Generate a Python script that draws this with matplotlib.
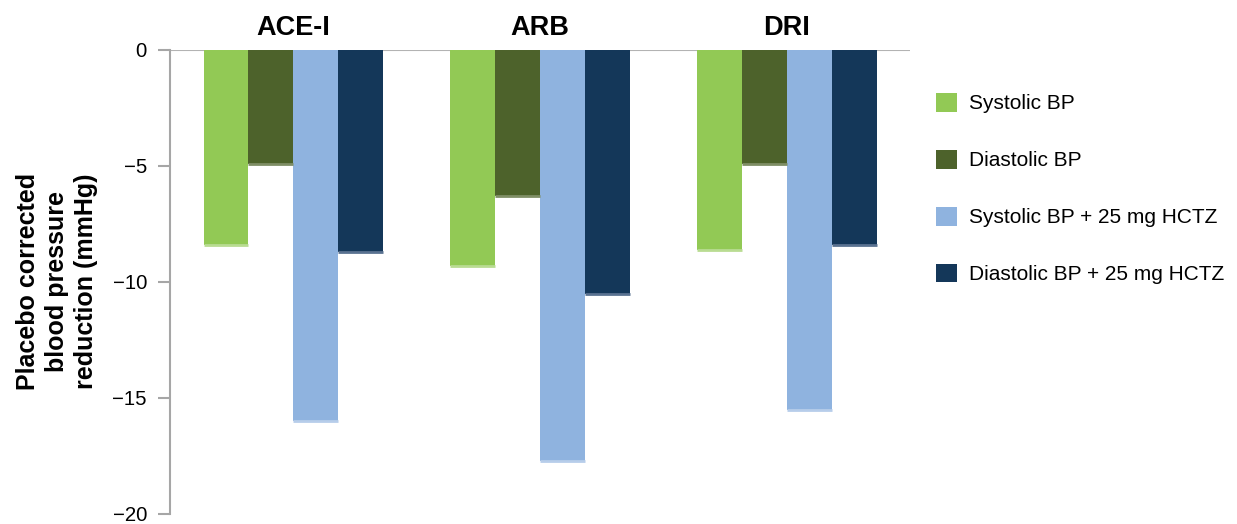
import matplotlib
matplotlib.use("Agg")
import matplotlib.pyplot as plt
import numpy as np
from matplotlib.patches import Patch

plt.rcParams['font.family'] = ['Liberation Sans', 'DejaVu Sans']

groups = ["ACE-I", "ARB", "DRI"]
series = ["Systolic BP", "Diastolic BP", "Systolic BP + 25 mg HCTZ", "Diastolic BP + 25 mg HCTZ"]
systolic = [-8.4, -9.3, -8.6]
diastolic = [-4.9, -6.3, -4.9]
systolic_hctz = [-16.0, -17.7, -15.5]
diastolic_hctz = [-8.7, -10.5, -8.4]
yticks = [0, -5, -10, -15, -20]

colors = ["#92c955", "#4d622b", "#8fb3df", "#143759"]
edge_colors = ["#b9dc92", "#7f8e66", "#b7cdea", "#5a7291"]

fig = plt.figure(figsize=(12.37, 5.24), dpi=100)
ax = fig.add_axes([0.1374, 0.0191, 0.5983, 0.8855])

x = np.arange(len(groups))
width = 0.182
values = [systolic, diastolic, systolic_hctz, diastolic_hctz]
for i, (vals, c, ec) in enumerate(zip(values, colors, edge_colors)):
    pos = x + (i - 1.5) * width
    ax.bar(pos, vals, width=width, color=c, edgecolor='none', zorder=2)
    # lighter rim along the bottom of each bar
    ax.hlines(vals, pos - width / 2, pos + width / 2, colors=ec, linewidth=2.0, zorder=3)

ax.set_xlim(-0.5, 2.5)
ax.set_ylim(-20, 0)
ax.set_yticks(yticks)
ax.set_yticklabels(["0", "\u22125", "\u221210", "\u221215", "\u221220"], fontsize=14.7)
ax.tick_params(axis='y', direction='out', length=8.6, width=1.5, color='#a6a6a6', pad=8)
ax.set_xticks([])

for s in ['right', 'bottom', 'top']:
    ax.spines[s].set_visible(False)
ax.spines['left'].set_color('#a6a6a6')
ax.spines['left'].set_linewidth(1.5)
ax.axhline(0, color='#b3b3b3', linewidth=1.5, zorder=1)

for xi, g in zip(x, groups):
    ax.text(xi, 0.64, g, ha='center', va='baseline', fontsize=19.5, fontweight='bold',
            clip_on=False)

fig.text(57 / 1237, 1 - 281 / 524, "Placebo corrected\nblood pressure\nreduction (mmHg)",
         rotation=90, ha='center', va='center', fontsize=18, fontweight='bold',
         linespacing=1.25, multialignment='center')

handles = [Patch(facecolor=c, edgecolor='none') for c in colors]
leg = fig.legend(handles, series, loc='center left', bbox_to_anchor=(0.7415, 0.64),
                 frameon=False, fontsize=15, handlelength=1.0, handleheight=1.0,
                 labelspacing=1.75, handletextpad=0.6)

fig.savefig("out.png", dpi=100)
